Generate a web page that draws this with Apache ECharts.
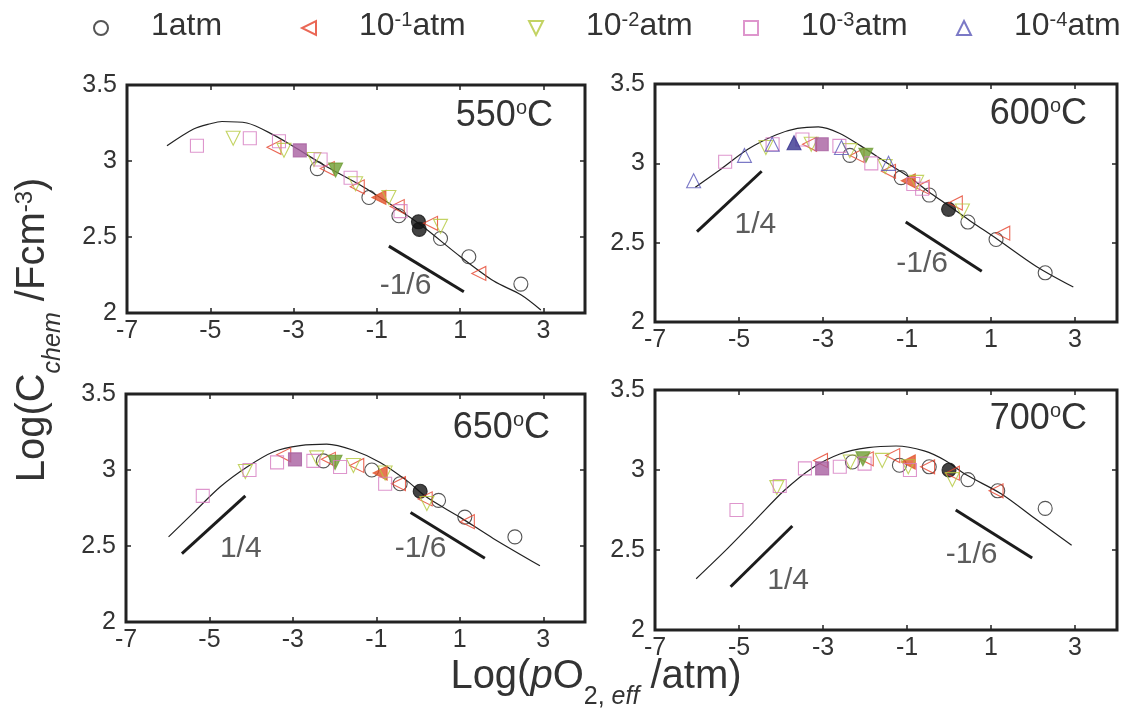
<!DOCTYPE html>
<html>
<head>
<meta charset="utf-8">
<script src="https://cdn.jsdelivr.net/npm/echarts@6/dist/echarts.min.js"></script>
<style>
  html, body { margin: 0; padding: 0; background: #fff; }
  #chart { width: 1129px; height: 727px; }
</style>
</head>
<body>
<div id="chart"></div>
<script>
// ---- data: [logpO2, logC] ; third value 1 = filled marker ----
const temps = ['550', '600', '650', '700'];
const seriesNames = ['1atm', '10-1atm', '10-2atm', '10-3atm', '10-4atm'];
const seriesLabels = ['{m|1atm}', '{m|10}{s|-1}{m|atm}', '{m|10}{s|-2}{m|atm}', '{m|10}{s|-3}{m|atm}', '{m|10}{s|-4}{m|atm}'];
const xTicks = [-7, -5, -3, -1, 1, 3];
const yTicks = [2, 2.5, 3, 3.5];

// 550 C
const curve550 = [[-6.04, 3.10], [-5.4, 3.21], [-5.0, 3.245], [-4.72, 3.26], [-4.12, 3.25], [-3.47, 3.17], [-3.0, 3.095],
  [-2.19, 2.96], [-1.39, 2.84], [-0.59, 2.70], [0.05, 2.58], [1.01, 2.37], [1.81, 2.21], [2.46, 2.12], [2.94, 2.02]];
const k550 = [[-2.43, 2.95], [-1.19, 2.76], [-0.47, 2.64], [0.0, 2.60, 1], [0.02, 2.55, 1], [0.53, 2.49], [1.21, 2.37], [2.46, 2.19]];
const r550 = [[-3.47, 3.09], [-2.19, 2.95], [-1.47, 2.83], [-0.95, 2.76, 1], [-0.51, 2.70], [0.29, 2.59], [1.45, 2.26]];
const g550 = [[-4.45, 3.15], [-3.23, 3.07], [-2.51, 3.01], [-1.99, 2.94, 1], [-1.51, 2.85], [-0.71, 2.76], [0.53, 2.57]];
const p550 = [[-5.32, 3.10], [-4.05, 3.15], [-3.35, 3.13], [-2.85, 3.07, 1], [-2.35, 3.01], [-1.63, 2.89], [-0.43, 2.67]];
const b550 = [];
const slope550 = [[[-0.71, 2.44], [1.09, 2.14]]];
const slopeText550 = [[-0.31, 2.18, '-1/6']];

// 600 C
const curve600 = [[-6.04, 2.85], [-5.45, 2.96], [-4.78, 3.09], [-4.11, 3.18], [-3.61, 3.22], [-3.11, 3.23], [-2.61, 3.19],
  [-2.1, 3.11], [-1.52, 3.01], [-0.93, 2.91], [-0.43, 2.81], [0.01, 2.73], [0.49, 2.64], [1.16, 2.52], [2.08, 2.35], [2.96, 2.22]];
const k600 = [[-2.36, 3.05], [-1.14, 2.91], [-0.47, 2.80], [-0.01, 2.71, 1], [0.45, 2.63], [1.12, 2.52], [2.29, 2.31]];
const r600 = [[-3.32, 3.12], [-2.19, 3.05], [-1.44, 2.95], [-0.97, 2.89, 1], [-0.64, 2.85], [0.15, 2.75], [1.28, 2.56]];
const g600 = [[-4.36, 3.10], [-3.28, 3.12], [-2.36, 3.08], [-1.98, 3.05, 1], [-1.52, 2.98], [-0.77, 2.88], [0.32, 2.70]];
const p600 = [[-5.33, 3.01], [-4.2, 3.12], [-3.49, 3.15], [-3.03, 3.12, 1], [-2.61, 3.11], [-1.85, 3.00], [-0.85, 2.87], [-0.64, 2.84]];
const b600 = [[-6.08, 2.89], [-4.87, 3.05], [-4.21, 3.12], [-3.69, 3.13, 1], [-2.56, 3.10], [-1.44, 3.0]];
const slope600 = [[[-6.0, 2.57], [-4.46, 2.95]], [[-1.03, 2.63], [0.78, 2.32]]];
const slopeText600 = [[-4.61, 2.61, '1/4'], [-0.64, 2.37, '-1/6']];

// 650 C
const curve650 = [[-5.98, 2.56], [-5.38, 2.72], [-4.74, 2.89], [-4.10, 3.02], [-3.46, 3.12], [-2.83, 3.16], [-2.19, 3.17],
  [-1.55, 3.13], [-0.91, 3.05], [-0.27, 2.93], [0.21, 2.82], [1.0, 2.69], [1.80, 2.55], [2.92, 2.37]];
const k650 = [[-2.27, 3.06], [-1.11, 3.0], [-0.43, 2.91], [0.05, 2.86, 1], [0.49, 2.80], [1.12, 2.69], [2.32, 2.56]];
const r650 = [[-3.22, 3.10], [-2.15, 3.07], [-1.47, 3.03], [-0.91, 2.98, 1], [-0.47, 2.91], [0.17, 2.81], [1.18, 2.66]];
const g650 = [[-4.14, 2.99], [-2.43, 3.08], [-1.99, 3.05, 1], [-1.55, 3.03], [-0.79, 2.98], [0.21, 2.78]];
const p650 = [[-5.16, 2.83], [-4.04, 3.0], [-3.38, 3.05], [-2.95, 3.07, 1], [-2.51, 3.06], [-1.87, 3.02], [-0.79, 2.91]];
const b650 = [];
const slope650 = [[[-5.66, 2.45], [-4.14, 2.83]], [[-0.18, 2.72], [1.60, 2.42]]];
const slopeText650 = [[-4.25, 2.48, '1/4'], [0.06, 2.48, '-1/6']];

// 700 C
const curve700 = [[-6.02, 2.32], [-5.27, 2.51], [-4.60, 2.69], [-3.93, 2.87], [-3.27, 3.01], [-2.60, 3.10], [-1.93, 3.14],
  [-1.26, 3.15], [-0.59, 3.12], [-0.09, 3.06], [0.41, 2.97], [1.25, 2.85], [2.08, 2.69], [2.92, 2.53]];
const k700 = [[-2.30, 3.05], [-1.18, 3.03], [-0.47, 3.02], [0.0, 3.0, 1], [0.45, 2.94], [1.16, 2.87], [2.29, 2.76]];
const r700 = [[-3.06, 3.06], [-1.97, 3.07], [-1.34, 3.09], [-0.97, 3.05, 1], [-0.51, 3.02], [0.08, 2.98], [1.12, 2.87]];
const g700 = [[-4.10, 2.89], [-2.35, 3.05], [-2.05, 3.07, 1], [-1.59, 3.06], [-0.97, 3.02], [0.08, 2.94]];
const p700 = [[-5.06, 2.75], [-4.03, 2.90], [-3.43, 3.01], [-3.02, 3.01, 1], [-2.60, 3.02], [-2.01, 3.04], [-0.93, 3.0]];
const b700 = [];
const slope700 = [[[-5.2, 2.27], [-3.73, 2.65]], [[0.16, 2.75], [1.98, 2.45]]];
const slopeText700 = [[-3.83, 2.31, '1/4'], [0.54, 2.47, '-1/6']];

const curves = [curve550, curve600, curve650, curve700];
const markers = [[k550, r550, g550, p550, b550], [k600, r600, g600, p600, b600],
                 [k650, r650, g650, p650, b650], [k700, r700, g700, p700, b700]];
const slopes = [slope550, slope600, slope650, slope700];
const slopeTexts = [slopeText550, slopeText600, slopeText650, slopeText700];

// ---- styles / layout ----
const FONT = "'Liberation Sans', Arial, sans-serif";
const TXT = '#333';
const grids = [
  { left: 127, top: 85, width: 458, height: 228 },
  { left: 655, top: 84, width: 462, height: 238 },
  { left: 126, top: 394, width: 459, height: 228 },
  { left: 655, top: 390, width: 462, height: 240 }
];
const titlePos = [[576, 98], [42, 96], [579, 410], [42, 401]];
const legendLeft = [93, 301, 528, 743, 956];
const legendIcon = ['circle', 'path://M10,0L10,10L0,5Z', 'path://M0,0L10,0L5,10Z', 'rect', 'triangle'];
const markStyle = [
  { symbol: 'circle', rotate: 0, size: 14, line: '#2b2b2b', fill: '#141414' },
  { symbol: 'triangle', rotate: 90, size: 14, line: '#e5412b', fill: '#e2542c' },
  { symbol: 'triangle', rotate: 180, size: 14, line: '#b4c83c', fill: '#6f9f35' },
  { symbol: 'rect', rotate: 0, size: 13, line: '#d67cc0', fill: '#a85fa0' },
  { symbol: 'triangle', rotate: 0, size: 14, line: '#5a58b8', fill: '#37338f' }
];

const chart = echarts.init(document.getElementById('chart'));

const xAxes = [], yAxes = [], series = [];
grids.forEach((g, i) => {
  const tick = { show: true, inside: true, length: 5, lineStyle: { color: '#222', width: 1.5 } };
  const noLine = { show: false, onZero: false };
  xAxes.push({ type: 'value', gridIndex: i, position: 'bottom', min: -7, max: 4, interval: 2,
    axisLine: noLine, axisTick: tick, splitLine: { show: false },
    axisLabel: { fontSize: 25, color: TXT, fontFamily: FONT, margin: 6, showMaxLabel: false,
      formatter: v => xTicks.indexOf(v) >= 0 ? String(v) : '' } });
  xAxes.push({ type: 'value', gridIndex: i, position: 'top', min: -7, max: 4, interval: 2,
    axisLine: noLine, axisTick: tick, splitLine: { show: false }, axisLabel: { show: false } });
  yAxes.push({ type: 'value', gridIndex: i, position: 'left', min: 2, max: 3.5, interval: 0.5,
    axisLine: noLine, axisTick: tick, splitLine: { show: false },
    axisLabel: { fontSize: 25, color: TXT, fontFamily: FONT, margin: 10,
      formatter: v => yTicks.indexOf(v) >= 0 ? String(v) : '' } });
  yAxes.push({ type: 'value', gridIndex: i, position: 'right', min: 2, max: 3.5, interval: 0.5,
    axisLine: noLine, axisTick: tick, splitLine: { show: false }, axisLabel: { show: false } });

  const ax = { xAxisIndex: 2 * i, yAxisIndex: 2 * i };
  // fitted curve
  series.push(Object.assign({ type: 'line', data: curves[i], smooth: 0.3, symbol: 'none', silent: true,
    lineStyle: { color: '#222', width: 1.2 }, z: 1 }, ax));
  // slope guides
  slopes[i].forEach(seg => series.push(Object.assign({ type: 'line', data: seg, symbol: 'none', silent: true,
    lineStyle: { color: '#1c1c1c', width: 3 }, z: 1 }, ax)));
  series.push(Object.assign({ type: 'scatter', symbolSize: 0, silent: true,
    data: slopeTexts[i].map(t => ({ value: [t[0], t[1]], name: t[2] })),
    label: { show: true, position: 'inside', formatter: '{b}', fontSize: 30, color: TXT, fontFamily: FONT } }, ax));
  // measured points
  markers[i].forEach((pts, j) => {
    const m = markStyle[j];
    series.push(Object.assign({
      type: 'scatter', name: seriesNames[j], symbol: m.symbol, symbolRotate: m.rotate, symbolSize: m.size,
      itemStyle: { color: 'rgba(0,0,0,0)', borderColor: m.line, borderWidth: 1.1 },
      data: pts.map(p => p[2] ? { value: [p[0], p[1]], itemStyle: { color: m.fill, borderColor: m.fill } } : [p[0], p[1]]),
      z: 3
    }, ax));
  });
});

const legendRich = {
  m: { fontSize: 32, lineHeight: 36, verticalAlign: 'top', fontFamily: FONT, color: TXT },
  s: { fontSize: 20, lineHeight: 20, verticalAlign: 'top', fontFamily: FONT, color: TXT }
};

chart.setOption({
  animation: false,
  backgroundColor: '#fff',
  grid: grids.map(g => Object.assign({ show: true, borderColor: '#222', borderWidth: 3, backgroundColor: 'transparent' }, g)),
  xAxis: xAxes,
  yAxis: yAxes,
  legend: seriesNames.map((n, j) => ({
    data: [{ name: n, icon: legendIcon[j] }], left: legendLeft[j], top: 10, padding: 0, itemWidth: 14, itemHeight: 14,
    symbolRotate: 0, selectedMode: false, formatter: () => seriesLabels[j],
    textStyle: { padding: [0, 0, 0, 38], fontSize: 32, fontFamily: FONT, color: TXT, rich: legendRich }
  })),
  title: temps.map((t, i) => ({
    text: '{m|' + t + '}{o|o}{m|C}', right: titlePos[i][0], top: titlePos[i][1], padding: 0,
    textStyle: { fontSize: 36, fontWeight: 'normal', color: TXT, fontFamily: FONT,
      rich: { m: { fontSize: 36, lineHeight: 40, verticalAlign: 'top', fontFamily: FONT, color: TXT },
              o: { fontSize: 20, lineHeight: 20, verticalAlign: 'top', fontFamily: FONT, color: TXT } } }
  })),
  graphic: [
    { type: 'text', x: 36, y: 330, rotation: Math.PI / 2,
      style: { text: '{m|Log(C}{sub|chem}{m| /Fcm}{sup|-3}{m|)}', align: 'center', verticalAlign: 'middle',
        fontSize: 40, fontFamily: FONT, fill: TXT,
        rich: {
          m: { fontSize: 40, lineHeight: 46, verticalAlign: 'top', fontFamily: FONT, fill: TXT },
          sub: { fontSize: 25, lineHeight: 25, verticalAlign: 'top', padding: [28, 0, 0, 0], fontStyle: 'italic', fontFamily: FONT, fill: TXT },
          sup: { fontSize: 24, lineHeight: 24, verticalAlign: 'top', fontFamily: FONT, fill: TXT }
        } } },
    { type: 'text', x: 596, y: 680,
      style: { text: '{m|Log(}{mi|p}{m|O}{sub|2, }{subi|eff}{m| /atm)}', align: 'center', verticalAlign: 'middle',
        fontSize: 40, fontFamily: FONT, fill: TXT,
        rich: {
          m: { fontSize: 40, lineHeight: 46, verticalAlign: 'top', fontFamily: FONT, fill: TXT },
          mi: { fontSize: 40, lineHeight: 46, verticalAlign: 'top', fontStyle: 'italic', fontFamily: FONT, fill: TXT },
          sub: { fontSize: 25, lineHeight: 25, verticalAlign: 'top', padding: [28, 0, 0, 0], fontFamily: FONT, fill: TXT },
          subi: { fontSize: 25, lineHeight: 25, verticalAlign: 'top', padding: [28, 0, 0, 0], fontStyle: 'italic', fontFamily: FONT, fill: TXT }
        } } }
  ],
  series: series
});
</script>
</body>
</html>
